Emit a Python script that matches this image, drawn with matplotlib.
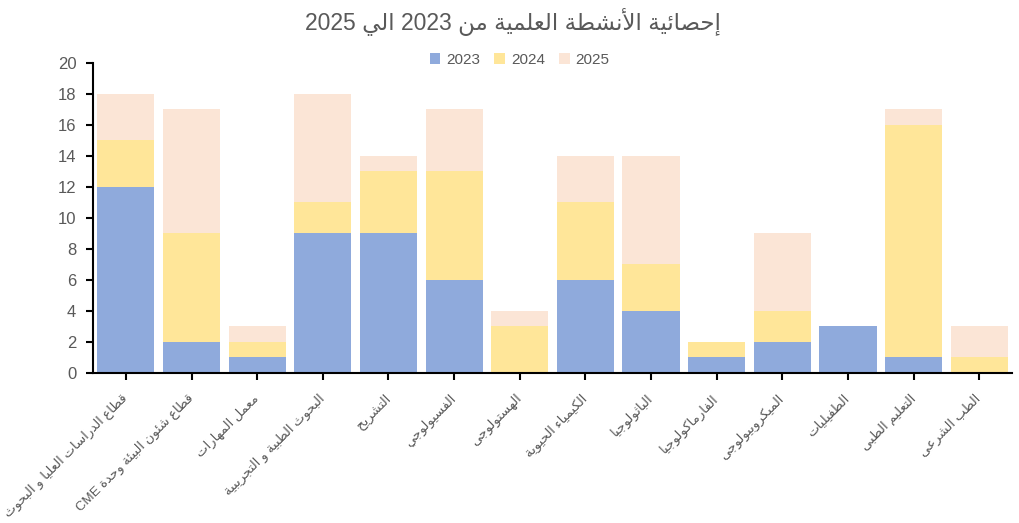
import re
import matplotlib
matplotlib.use('Agg')
import matplotlib.pyplot as plt
import numpy as np

# data
categories = [
    'قطاع الدراسات العليا و البحوث',
    'قطاع شئون البيئة وحدة CME',
    'معمل المهارات',
    'البحوث الطبية و التجريبية',
    'التشريح',
    'الفسيولوجي',
    'الهستولوجى',
    'الكيمياء الحيوية',
    'الباثولوجيا',
    'الفارماكولوجيا',
    'الميكروبيولوجى',
    'الطفيليات',
    'التعليم الطبى',
    'الطب الشرعى',
]
years = ['2023', '2024', '2025']
y2023 = [12, 2, 1, 9, 9, 6, 0, 6, 4, 1, 2, 3, 1, 0]
y2024 = [3, 7, 1, 2, 4, 7, 3, 5, 3, 1, 2, 0, 15, 1]
y2025 = [3, 8, 1, 7, 1, 4, 1, 3, 7, 0, 5, 0, 1, 2]
title = 'إحصائية الأنشطة العلمية من 2023 الي 2025'

colors = ['#8faadc', '#ffe699', '#fbe5d6']
grey = '#595959'

# matplotlib has no arabic shaping, so map letters to presentation forms by hand
AR_LETTERS = 'ءآأؤإئابةتثجحخدذرزسشصضطظعغفقكلمنهوىي'
RIGHT_ONLY = 'آأؤإادذرزوىة'
FORMS = {}
code = 0xFE80
for ch in AR_LETTERS:
    n = 1 if ch == 'ء' else (2 if ch in RIGHT_ONLY else 4)
    FORMS[ch] = (code, n)
    code += n
LAM_ALEF = {'آ': 0xFEF5, 'أ': 0xFEF7, 'إ': 0xFEF9, 'ا': 0xFEFB}


def joins_next(ch):
    return ch in FORMS and FORMS[ch][1] == 4


def joins_prev(ch):
    return ch in FORMS and FORMS[ch][1] > 1


def shape(word):
    out = []
    prev = ''
    i = 0
    while i < len(word):
        ch = word[i]
        nxt = word[i + 1] if i + 1 < len(word) else ''
        if ch not in FORMS:
            out.append(ch)
            prev = ch
            i += 1
            continue
        p = joins_next(prev)
        if ch == 'ل' and nxt in LAM_ALEF:
            out.append(chr(LAM_ALEF[nxt] + (1 if p else 0)))
            prev = nxt
            i += 2
            continue
        base, n = FORMS[ch]
        if n == 1:
            off = 0
        elif n == 2:
            off = 1 if p else 0
        else:
            nn = joins_prev(nxt)
            off = (1 if p else 0) + (2 if nn else 0)
        out.append(chr(base + off))
        prev = ch
        i += 1
    return ''.join(out)


def ar(s):
    tokens = re.findall(r'[A-Za-z0-9]+|[^A-Za-z0-9]+', s)
    parts = []
    for t in reversed(tokens):
        if re.match(r'[A-Za-z0-9]', t):
            parts.append(t)
        else:
            parts.append(shape(t)[::-1])
    return ''.join(parts)


plt.rcParams['font.family'] = ['Liberation Sans', 'DejaVu Sans']

fig = plt.figure(figsize=(10.19, 5.23), dpi=100)
ax = fig.add_axes([0.0913, 0.2868, 0.9019, 0.5933])

x = np.arange(len(categories))
w = 0.87
b1 = np.array(y2023)
b2 = b1 + np.array(y2024)
ax.bar(x, y2023, w, color=colors[0], label=years[0])
ax.bar(x, y2024, w, bottom=b1, color=colors[1], label=years[1])
ax.bar(x, y2025, w, bottom=b2, color=colors[2], label=years[2])

ax.set_xlim(-0.5, len(categories) - 0.5)
ax.set_ylim(0, 20)
ax.set_yticks(range(0, 21, 2))
ax.set_xticks(x)
ax.set_xticklabels([ar(c) for c in categories], rotation=45, ha='right',
                   va='center', rotation_mode='anchor', fontsize=9.5, color=grey)
ax.tick_params(axis='y', labelsize=12, labelcolor=grey, length=5, width=1.5, pad=7)
ax.tick_params(axis='x', length=5, width=1.5, pad=12)
for s in ['top', 'right']:
    ax.spines[s].set_visible(False)
for s in ['left', 'bottom']:
    ax.spines[s].set_linewidth(1.5)
    ax.spines[s].set_color('black')

fig.text(0.503, 0.957, ar(title), ha='center', va='center', fontsize=16.5, color=grey)
fig.legend(loc='center', bbox_to_anchor=(0.51, 0.885), ncol=3, frameon=False,
           fontsize=11, handlelength=0.7, handleheight=0.7, handletextpad=0.4,
           columnspacing=0.9, labelcolor=grey)

fig.savefig('out.png', dpi=100)
